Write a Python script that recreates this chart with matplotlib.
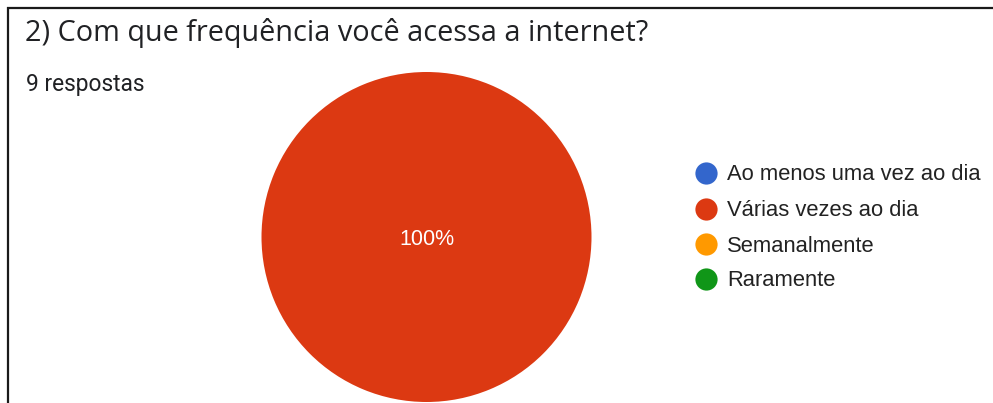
import matplotlib
matplotlib.use("Agg")
import matplotlib.pyplot as plt

title = "2) Com que frequência você acessa a internet?"
subtitle = "9 respostas"
categories = ["Ao menos uma vez ao dia", "Várias vezes ao dia", "Semanalmente", "Raramente"]
counts = [0, 9, 0, 0]
colors = ["#3366cc", "#dc3912", "#ff9900", "#109618"]

W, H = 993, 403
fig = plt.figure(figsize=(W / 100, H / 100), dpi=100)

# pie axes placed in pixel coordinates
cx, cy, r = 426.5, 237, 165
ax = fig.add_axes([(cx - r) / W, (H - cy - r) / H, 2 * r / W, 2 * r / H])

def fmt(p):
    return f"{p:.0f}%" if p > 0 else ""

wedges, texts, autotexts = ax.pie(
    counts, colors=colors, startangle=90, counterclock=False,
    autopct=fmt, pctdistance=0.0, radius=1.0,
    textprops=dict(color="white", fontsize=15.5, family="Liberation Sans"),
    wedgeprops=dict(linewidth=0),
)
for t in autotexts:
    t.set_y(-0.018)
ax.set_xlim(-1, 1)
ax.set_ylim(-1, 1)
ax.axis("off")

# overlay in pixel coords
ov = fig.add_axes([0, 0, 1, 1], facecolor="none")
ov.set_xlim(0, W)
ov.set_ylim(H, 0)
ov.axis("off")

ov.plot([7, W], [8, 8], color="#1a1a1a", lw=1.6, solid_capstyle="butt")
ov.plot([7.5, 7.5], [7.2, H], color="#1a1a1a", lw=1.6, solid_capstyle="butt")

ov.text(25, 33, title, fontsize=20.8, family="Open Sans", color="#202124",
        va="center", ha="left")
ov.text(26, 84, subtitle, fontsize=16.4, family="Roboto", color="#202124",
        va="center", ha="left")

ys = [173, 209, 244, 279]
for cat, col, y in zip(categories, colors, ys):
    ov.scatter([706], [y], s=256, color=col, zorder=3, linewidths=0)
    ov.text(727, y + 2, cat, fontsize=15.8, family="Liberation Sans", color="#222222",
            va="center", ha="left")

fig.savefig("out.png", dpi=100)
